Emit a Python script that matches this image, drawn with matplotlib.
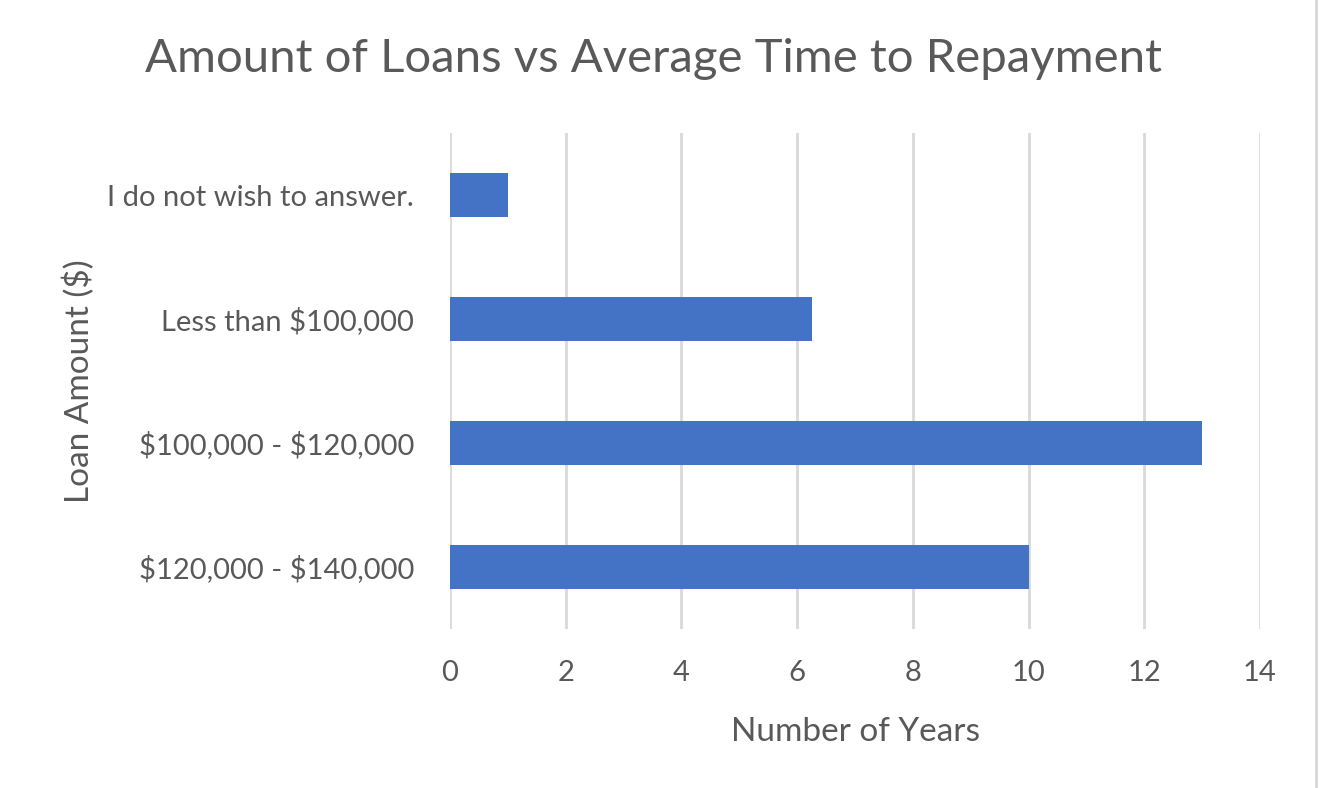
import matplotlib.pyplot as plt
import matplotlib.lines as mlines

# Chart data
categories = ["$120,000 - $140,000", "$100,000 - $120,000",
              "Less than $100,000", "I do not wish to answer."]
years = [10, 13, 6.25, 1]
x_ticks = [0, 2, 4, 6, 8, 10, 12, 14]

plt.rcParams['font.family'] = ['Lato', 'DejaVu Sans']
plt.rcParams['text.parse_math'] = False
text_color = '#595959'

fig = plt.figure(figsize=(13.26, 7.88), dpi=100)
ax = fig.add_axes([0.3394, 0.2018, 0.6108, 0.6294])

ax.barh(range(len(categories)), years, height=0.35, color='#4472C4', zorder=3)

ax.set_xlim(0, 14)
ax.set_ylim(-0.5, len(categories) - 0.5)
ax.set_xticks(x_ticks)
ax.set_xticklabels([str(t) for t in x_ticks], fontsize=21, color=text_color)
ax.set_yticks(range(len(categories)))
ax.set_yticklabels(categories, fontsize=21, color=text_color)
ax.tick_params(axis='both', length=0)
ax.tick_params(axis='x', pad=22)
ax.tick_params(axis='y', pad=26)

ax.grid(axis='x', color='#d9d9d9', linewidth=2, zorder=0)
for side in ax.spines.values():
    side.set_visible(False)

ax.set_xlabel('Number of Years', fontsize=24, color=text_color, labelpad=23)
ax.set_ylabel('Loan Amount ($)', fontsize=24, color=text_color, labelpad=9)

fig.text(0.493, 0.925, 'Amount of Loans vs Average Time to Repayment',
         fontsize=34, color=text_color, ha='center', va='center')

# screenshot border on the right edge
fig.add_artist(mlines.Line2D([0.9925, 0.9925], [0, 1], color='#d6d6d6',
                             linewidth=2, transform=fig.transFigure))

fig.savefig('out.png', dpi=100)
